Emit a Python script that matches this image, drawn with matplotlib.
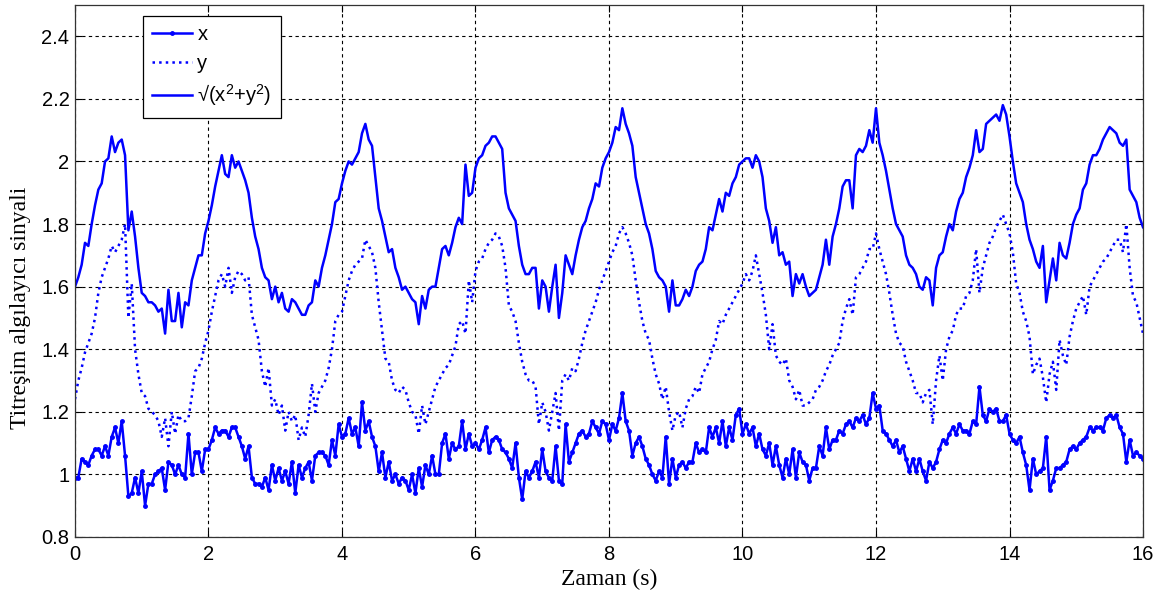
import numpy as np
import matplotlib
matplotlib.use("Agg")
import matplotlib.pyplot as plt

# Sensor signals sampled every 0.05 s from 0 to 16 s
t_start, t_end = 0.0, 16.0

x_sig = [
    0.99, 0.99, 1.05, 1.04, 1.03, 1.06, 1.08, 1.08, 1.06, 1.09, 1.06, 1.12, 1.15, 1.10, 1.17, 1.06, 0.93, 0.94, 0.99, 0.94,
    1.01, 0.90, 0.97, 0.97, 1.00, 1.01, 1.02, 0.95, 1.04, 1.03, 1.00, 1.03, 1.00, 0.99, 1.13, 1.00, 1.07, 1.07, 1.01, 1.08,
    1.08, 1.11, 1.15, 1.13, 1.14, 1.14, 1.12, 1.15, 1.15, 1.12, 1.09, 1.05, 1.09, 0.99, 0.97, 0.97, 0.96, 0.99, 0.95, 1.03,
    0.98, 1.02, 0.98, 1.01, 0.97, 1.04, 0.94, 1.03, 0.99, 1.02, 1.04, 0.98, 1.06, 1.07, 1.07, 1.06, 1.03, 1.11, 1.06, 1.16,
    1.12, 1.13, 1.18, 1.13, 1.15, 1.09, 1.23, 1.14, 1.17, 1.12, 1.09, 1.01, 1.07, 0.99, 1.04, 0.98, 1.00, 0.97, 0.99, 0.98,
    0.95, 1.00, 0.94, 1.02, 0.96, 1.03, 1.00, 1.06, 1.00, 1.00, 1.10, 1.13, 1.05, 1.10, 1.08, 1.09, 1.17, 1.08, 1.13, 1.09,
    1.10, 1.08, 1.11, 1.15, 1.07, 1.11, 1.12, 1.11, 1.08, 1.07, 1.05, 1.02, 1.10, 0.99, 0.92, 1.01, 0.99, 1.01, 1.04, 0.99,
    1.08, 1.01, 0.99, 0.98, 1.09, 0.98, 0.97, 1.16, 1.04, 1.07, 1.10, 1.13, 1.14, 1.12, 1.13, 1.17, 1.15, 1.13, 1.17, 1.16,
    1.11, 1.16, 1.14, 1.18, 1.26, 1.17, 1.14, 1.06, 1.10, 1.12, 1.09, 1.05, 1.03, 1.00, 0.98, 1.01, 0.99, 1.12, 0.97, 1.05,
    0.99, 1.03, 1.04, 1.02, 1.04, 1.04, 1.10, 1.07, 1.08, 1.07, 1.15, 1.12, 1.15, 1.10, 1.17, 1.09, 1.15, 1.11, 1.19, 1.21,
    1.13, 1.16, 1.13, 1.15, 1.09, 1.13, 1.08, 1.06, 1.10, 1.03, 1.09, 1.03, 0.99, 1.05, 1.00, 1.08, 0.99, 1.07, 1.04, 1.03,
    0.98, 1.02, 1.02, 1.09, 1.06, 1.15, 1.08, 1.11, 1.11, 1.14, 1.13, 1.16, 1.17, 1.15, 1.18, 1.17, 1.19, 1.16, 1.18, 1.26,
    1.21, 1.22, 1.14, 1.13, 1.11, 1.09, 1.11, 1.07, 1.09, 1.05, 1.01, 1.05, 1.01, 1.05, 1.01, 0.98, 1.04, 1.02, 1.04, 1.08,
    1.11, 1.10, 1.13, 1.15, 1.13, 1.16, 1.14, 1.14, 1.13, 1.17, 1.16, 1.28, 1.19, 1.17, 1.21, 1.20, 1.21, 1.17, 1.17, 1.19,
    1.13, 1.11, 1.10, 1.12, 1.07, 1.03, 0.95, 1.05, 1.00, 1.01, 1.02, 1.12, 0.95, 0.98, 1.02, 1.02, 1.03, 1.04, 1.08, 1.09,
    1.08, 1.10, 1.11, 1.12, 1.15, 1.14, 1.15, 1.15, 1.14, 1.18, 1.19, 1.18, 1.19, 1.15, 1.13, 1.04, 1.11, 1.06, 1.07, 1.06,
    1.05,
]

y_sig = [
    1.24, 1.30, 1.34, 1.39, 1.42, 1.45, 1.50, 1.58, 1.63, 1.66, 1.69, 1.73, 1.71, 1.73, 1.75, 1.80, 1.50, 1.61, 1.40, 1.32,
    1.26, 1.25, 1.21, 1.20, 1.19, 1.17, 1.12, 1.18, 1.09, 1.20, 1.13, 1.19, 1.17, 1.17, 1.18, 1.25, 1.33, 1.34, 1.37, 1.42,
    1.46, 1.52, 1.57, 1.62, 1.64, 1.60, 1.66, 1.58, 1.63, 1.65, 1.64, 1.62, 1.63, 1.51, 1.47, 1.43, 1.33, 1.28, 1.34, 1.22,
    1.24, 1.19, 1.22, 1.14, 1.20, 1.17, 1.19, 1.11, 1.15, 1.12, 1.19, 1.29, 1.20, 1.26, 1.28, 1.30, 1.34, 1.40, 1.49, 1.51,
    1.52, 1.57, 1.62, 1.65, 1.67, 1.68, 1.69, 1.75, 1.73, 1.71, 1.66, 1.55, 1.46, 1.37, 1.36, 1.30, 1.27, 1.26, 1.28, 1.27,
    1.23, 1.20, 1.19, 1.13, 1.22, 1.16, 1.20, 1.24, 1.28, 1.30, 1.32, 1.34, 1.35, 1.38, 1.41, 1.48, 1.49, 1.45, 1.62, 1.55,
    1.65, 1.68, 1.69, 1.72, 1.74, 1.75, 1.77, 1.76, 1.73, 1.66, 1.54, 1.52, 1.49, 1.42, 1.36, 1.32, 1.30, 1.30, 1.28, 1.16,
    1.23, 1.20, 1.14, 1.20, 1.26, 1.14, 1.30, 1.32, 1.30, 1.34, 1.33, 1.37, 1.42, 1.46, 1.49, 1.52, 1.55, 1.59, 1.62, 1.65,
    1.68, 1.71, 1.73, 1.77, 1.79, 1.77, 1.74, 1.70, 1.62, 1.55, 1.49, 1.45, 1.43, 1.37, 1.32, 1.29, 1.24, 1.28, 1.20, 1.14,
    1.19, 1.20, 1.15, 1.21, 1.24, 1.25, 1.28, 1.26, 1.32, 1.34, 1.36, 1.40, 1.43, 1.49, 1.48, 1.51, 1.53, 1.55, 1.57, 1.59,
    1.61, 1.64, 1.62, 1.65, 1.70, 1.64, 1.58, 1.51, 1.40, 1.48, 1.38, 1.36, 1.35, 1.37, 1.30, 1.28, 1.24, 1.27, 1.22, 1.22,
    1.23, 1.24, 1.27, 1.28, 1.30, 1.33, 1.35, 1.38, 1.40, 1.42, 1.49, 1.53, 1.56, 1.51, 1.63, 1.64, 1.66, 1.68, 1.72, 1.72,
    1.77, 1.72, 1.68, 1.64, 1.58, 1.51, 1.45, 1.42, 1.41, 1.36, 1.33, 1.30, 1.26, 1.26, 1.23, 1.26, 1.27, 1.16, 1.30, 1.38,
    1.30, 1.40, 1.44, 1.46, 1.51, 1.53, 1.53, 1.57, 1.58, 1.62, 1.72, 1.58, 1.66, 1.70, 1.74, 1.76, 1.79, 1.81, 1.83, 1.80,
    1.77, 1.71, 1.61, 1.58, 1.52, 1.49, 1.44, 1.32, 1.35, 1.37, 1.31, 1.23, 1.32, 1.36, 1.27, 1.43, 1.38, 1.35, 1.44, 1.49,
    1.53, 1.55, 1.57, 1.51, 1.60, 1.62, 1.64, 1.66, 1.68, 1.69, 1.71, 1.73, 1.75, 1.75, 1.71, 1.80, 1.66, 1.57, 1.55, 1.50,
    1.45,
]

r_sig = [
    1.60, 1.63, 1.67, 1.74, 1.73, 1.80, 1.86, 1.91, 1.93, 2.00, 2.01, 2.08, 2.03, 2.06, 2.07, 2.02, 1.78, 1.84, 1.76, 1.66,
    1.58, 1.57, 1.55, 1.55, 1.54, 1.52, 1.53, 1.45, 1.59, 1.49, 1.49, 1.58, 1.47, 1.55, 1.54, 1.62, 1.66, 1.70, 1.70, 1.77,
    1.81, 1.86, 1.92, 1.97, 2.02, 1.96, 1.95, 2.02, 1.98, 2.00, 1.97, 1.94, 1.90, 1.82, 1.76, 1.72, 1.66, 1.63, 1.62, 1.56,
    1.60, 1.55, 1.58, 1.53, 1.52, 1.56, 1.55, 1.53, 1.51, 1.51, 1.54, 1.55, 1.62, 1.60, 1.66, 1.70, 1.75, 1.80, 1.87, 1.88,
    1.93, 1.97, 2.00, 1.99, 2.01, 2.03, 2.09, 2.12, 2.07, 2.05, 1.95, 1.85, 1.81, 1.76, 1.71, 1.72, 1.66, 1.63, 1.59, 1.60,
    1.58, 1.56, 1.55, 1.48, 1.57, 1.53, 1.59, 1.60, 1.60, 1.66, 1.72, 1.73, 1.70, 1.74, 1.79, 1.82, 1.80, 1.99, 1.89, 1.90,
    1.98, 2.01, 2.02, 2.05, 2.06, 2.08, 2.08, 2.06, 2.04, 1.90, 1.85, 1.83, 1.81, 1.73, 1.67, 1.64, 1.64, 1.66, 1.66, 1.53,
    1.62, 1.60, 1.52, 1.60, 1.67, 1.50, 1.58, 1.70, 1.67, 1.64, 1.70, 1.75, 1.79, 1.81, 1.85, 1.88, 1.93, 1.92, 1.98, 2.01,
    2.03, 2.06, 2.11, 2.10, 2.17, 2.12, 2.09, 2.05, 1.95, 1.90, 1.85, 1.80, 1.77, 1.72, 1.65, 1.63, 1.62, 1.60, 1.52, 1.62,
    1.54, 1.54, 1.56, 1.59, 1.57, 1.60, 1.65, 1.67, 1.68, 1.72, 1.79, 1.78, 1.83, 1.88, 1.84, 1.90, 1.89, 1.93, 1.95, 1.99,
    2.00, 2.01, 2.01, 1.98, 2.02, 2.00, 1.95, 1.85, 1.81, 1.74, 1.79, 1.70, 1.71, 1.67, 1.68, 1.57, 1.64, 1.61, 1.64, 1.60,
    1.57, 1.58, 1.59, 1.63, 1.67, 1.75, 1.67, 1.76, 1.80, 1.85, 1.92, 1.94, 1.94, 1.85, 2.02, 2.04, 2.03, 2.05, 2.10, 2.06,
    2.17, 2.06, 2.02, 1.97, 1.91, 1.85, 1.80, 1.78, 1.76, 1.70, 1.67, 1.66, 1.64, 1.60, 1.59, 1.63, 1.62, 1.54, 1.66, 1.70,
    1.71, 1.76, 1.80, 1.78, 1.84, 1.88, 1.90, 1.95, 1.98, 2.02, 2.10, 2.03, 2.04, 2.12, 2.13, 2.14, 2.15, 2.13, 2.18, 2.15,
    2.08, 2.00, 1.93, 1.90, 1.87, 1.80, 1.75, 1.72, 1.68, 1.66, 1.73, 1.55, 1.62, 1.69, 1.62, 1.74, 1.70, 1.69, 1.74, 1.80,
    1.83, 1.85, 1.91, 1.93, 1.99, 2.02, 2.02, 2.04, 2.07, 2.09, 2.11, 2.10, 2.09, 2.06, 2.05, 2.07, 1.91, 1.89, 1.87, 1.82,
    1.79,
]

xticks = [0, 2, 4, 6, 8, 10, 12, 14, 16]
yticks = [0.8, 1.0, 1.2, 1.4, 1.6, 1.8, 2.0, 2.2, 2.4]
ytick_labels = ["0.8", "1", "1.2", "1.4", "1.6", "1.8", "2", "2.2", "2.4"]
series_labels = ["x", "y", "\u221a(x$^2$+y$^2$)"]

plt.rcParams["mathtext.default"] = "regular"
plt.rcParams["font.family"] = ["Liberation Sans", "DejaVu Sans"]

t = np.linspace(t_start, t_end, len(x_sig))
blue = "#0000ff"

fig = plt.figure(figsize=(11.68, 6.02), dpi=100)
ax = fig.add_axes([0.0642, 0.108, 0.9144, 0.8837])

ax.plot(t, x_sig, color=blue, lw=1.8, marker=".", ms=5, label=series_labels[0])
ax.plot(t, y_sig, color=blue, lw=1.8, ls=":", label=series_labels[1])
ax.plot(t, r_sig, color=blue, lw=1.8, label=series_labels[2])

ax.set_xlim(t_start, t_end)
ax.set_ylim(0.8, 2.5)
ax.set_xticks(xticks)
ax.set_yticks(yticks)
ax.set_yticklabels(ytick_labels)
ax.grid(True, color="k", ls=(0, (3, 3)), lw=0.8)
ax.tick_params(direction="in", top=True, right=True, length=5, width=0.8,
               labelsize=14.5)
ax.tick_params(axis="x", pad=6)
ax.tick_params(axis="y", pad=4)
for s in ax.spines.values():
    s.set_linewidth(0.9)
    s.set_color("#333333")

ax.set_xlabel("Zaman (s)", family="Liberation Serif", fontsize=17)
ax.set_ylabel("Titreşim algılayıcı sinyali", family="Liberation Serif", fontsize=17)
ax.xaxis.set_label_coords(0.5, -0.060)
ax.yaxis.set_label_coords(-0.041, 0.43)

leg = ax.legend(loc="upper left", bbox_to_anchor=(0.0637, 0.979), borderaxespad=0,
                fancybox=False, edgecolor="k", framealpha=1,
                prop={"family": ["Liberation Sans", "DejaVu Sans"], "size": 14.5},
                handlelength=2.0, handletextpad=0.25, labelspacing=0.48,
                borderpad=0.45)
leg.get_frame().set_linewidth(0.9)

fig.savefig("out.png", dpi=100)
